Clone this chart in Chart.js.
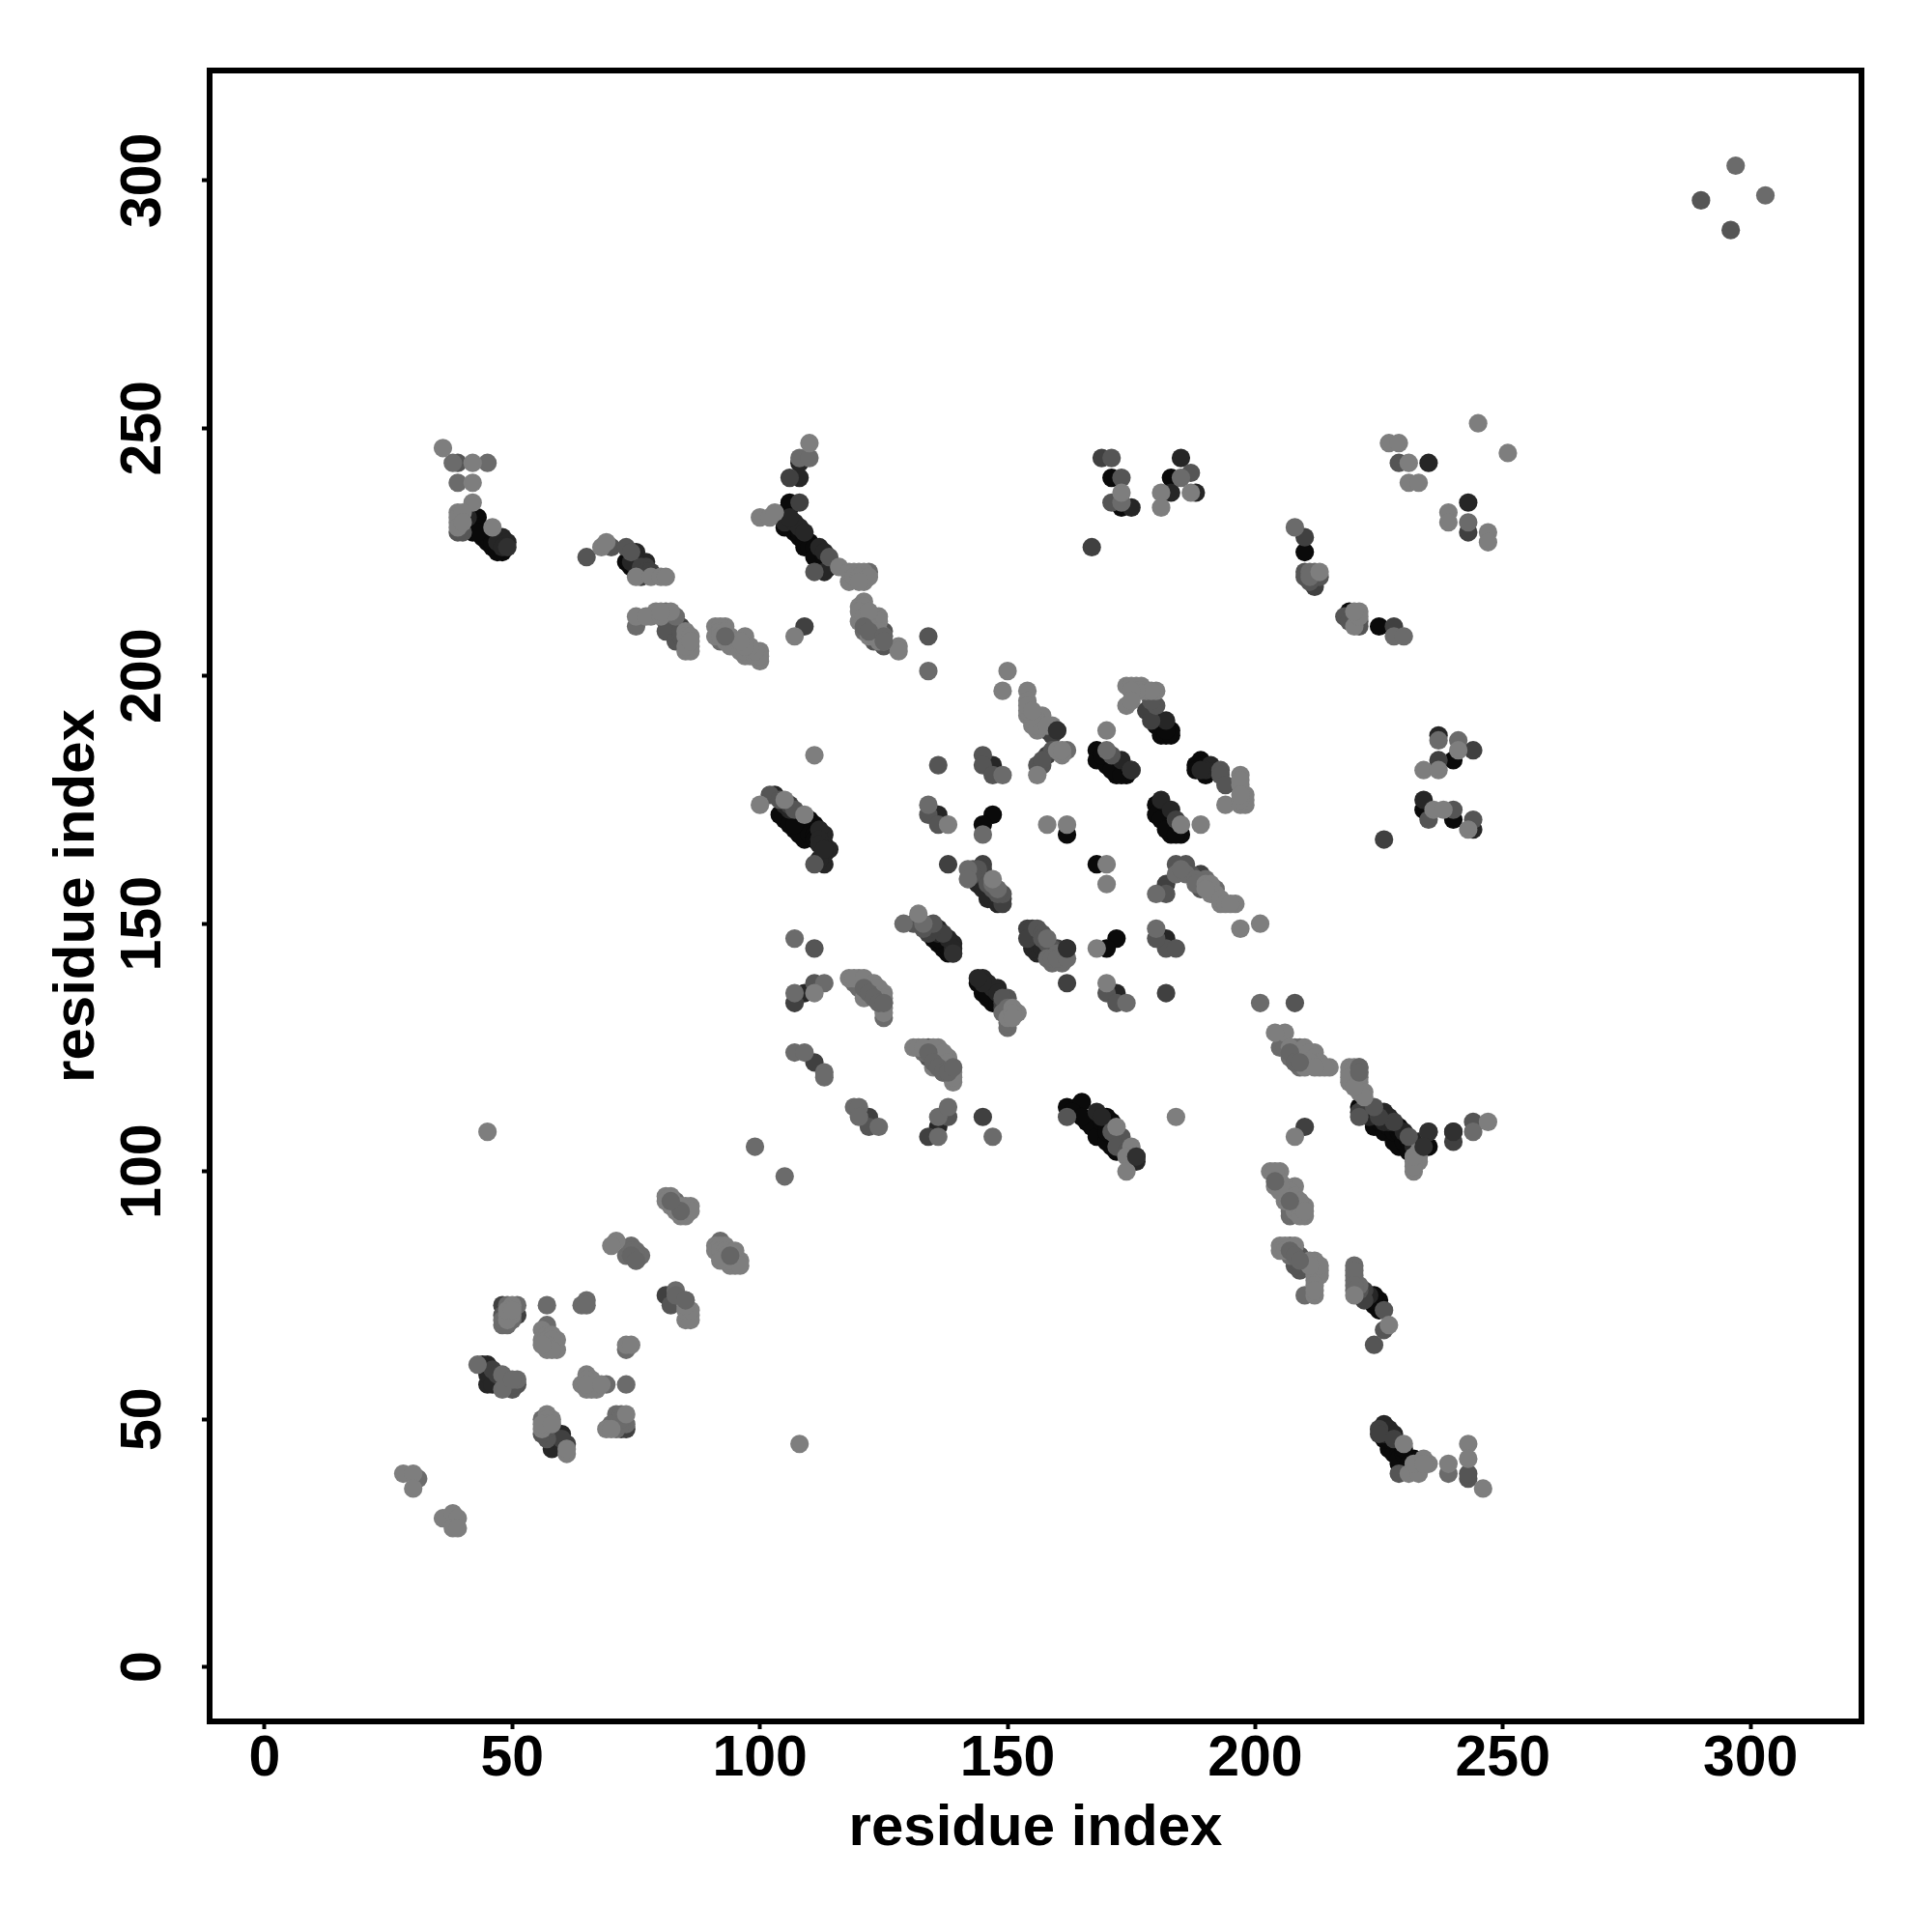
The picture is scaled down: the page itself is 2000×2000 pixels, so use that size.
<!DOCTYPE html>
<html>
<head>
<meta charset="utf-8">
<title>residue contact map</title>
<script src="https://cdn.jsdelivr.net/npm/chart.js@4"></script>
<style>
  body { margin: 0; background: #fff; }
  canvas { display: block; }
</style>
</head>
<body>
<canvas id="contactMap" width="2000" height="2000"></canvas>
<script>
// tick labels on both axes
const tickValues = [0, 50, 100, 150, 200, 250, 300];
const axisTitle = 'residue index';

// contacts as [residue, residue], grouped by how dark the point is
const contactsBlack = [
  [43,232],[42,231],[43,230],[42,229],[44,229],[44,228],[45,227],[46,226],[47,226],[48,225],[41,230],
  [74,224],[73,223],[74,222],[75,221],
  [105,233],[106,235],[105,230],[107,229],[108,228],[110,227],[112,224],[114,222],[106,234],[109,226],[111,225],[113,223],
  [105,171],[107,169],[109,167],[104,172],[106,170],[108,168],[111,170],
  [136,146],[138,144],[137,145],[144,138],[145,136],[147,134],[146,135],
  [147,172],[145,170],[162,168],[168,162],[172,147],[170,145],
  [168,185],[168,183],[170,182],[172,180],[174,180],[169,184],[171,181],[173,180],
  [180,174],[180,172],[183,168],[181,171],[182,169],[185,168],[184,168],
  [181,188],[180,190],[183,189],[182,188],[183,188],
  [189,183],[188,182],[188,181],[190,180],
  [171,240],[173,234],[183,240],[210,225],[219,213],[212,219],[225,210],
  [240,183],[234,173],[235,172],[240,171],
  [162,113],[164,113],[165,114],[166,110],[170,111],[169,108],[171,105],[163,112],[167,109],[168,107],[170,106],[172,104],[165,111],
  [221,113],[224,109],[229,105],[234,105],[226,108],[228,106],[231,104],
  [225,74],[224,73],
  [227,44],[229,41],[231,42],[226,46],[228,43],[230,41],[232,42],
  [59,45],[107,172],[108,171],[108,172],[109,170],[110,170],[110,171],[110,168],[111,168],[111,167],[113,166],[107,170],
  [146,137],[147,136],[148,135],[146,136],[148,134],[135,147],[137,147],[137,146],[138,146],[138,145],[136,147],
  [169,110],[170,109],[171,110],[172,108],[170,108],[225,110],[227,109],[228,109],[228,108],[229,108],[229,109],[230,106],[231,106],[234,106],[235,105],
  [225,72],[223,74],[224,75],[224,74],[227,46],[229,44],[229,43],[229,42],[230,43],[230,44],[231,41],[232,40],
  [45,228],[46,228],[46,227],[47,225],[43,229],[106,231],[106,230],[107,230],[108,229],[109,228],[109,227],[110,226],[111,226],[111,224],[113,224],
  [181,190],[182,190],[182,189],[181,191]
];
const contactsVeryDark = [
  [48,228],[47,227],[41,232],[75,225],[77,223],
  [108,243],[108,240],[105,231],[107,231],[108,230],[109,229],[112,226],[113,225],[113,221],[106,232],
  [103,176],[113,168],[114,165],[113,162],[139,146],[139,144],
  [146,155],[148,154],[144,158],[145,157],[147,156],[145,139],[148,137],
  [136,172],[147,182],[172,136],[182,147],[181,175],[183,173],[173,183],[191,182],[182,191],
  [185,244],[175,234],[183,237],[188,237],[235,243],[243,235],[237,188],[234,175],[244,169],
  [176,103],[226,112],[240,108],[226,49],[228,47],[44,61],[45,57],[60,47],[58,44],
  [136,109],[109,136],[156,144],[155,145],
  [45,61],[45,59],[47,57],[46,57],[59,46],[60,45],[146,138],[147,137],[148,136],[145,138],[144,139],
  [136,149],[136,148],[138,147],[139,145],[144,159],[145,159],[145,158],[146,157],[147,155],[146,156],[148,155],
  [155,147],[156,146],[157,145],[158,144],[161,144],[105,174],[106,173],[112,169],[112,167],[112,166],[113,164],[112,163],[113,165],
  [168,112],[169,111],[173,106],[174,105],[175,103],[176,102],[222,113],[223,112],[223,111],[224,112],[226,110],[227,111],[227,110],[230,108],[232,105],[232,106],[233,106],
  [223,75],[226,48],[227,48],[227,47],[226,47],[49,227],[48,226],[190,181],[189,181],[158,189],[75,222],[75,223],[74,223],[212,220],[219,212]
];
const contactsDark = [
  [77,222],[76,221],[84,210],[109,210],[106,240],[108,235],[106,174],[111,122],[122,111],
  [158,184],[160,189],[178,193],[179,191],[175,181],[184,171],[138,162],[145,162],[182,158],[189,160],
  [137,148],[134,148],[154,149],[154,147],[162,145],[182,136],[162,138],[145,111],[134,107],[107,134],
  [169,244],[167,226],[210,228],[228,210],[243,229],[244,185],[237,183],[226,167],[210,109],[240,106],
  [222,76],[222,74],[46,60],[48,73],[51,71],[81,75],[61,45],[73,48],[225,48],[228,110],[121,137],[149,133],
  [58,47],[47,59],[72,48],[149,134],[135,149],[144,160],[145,161],[149,155],[149,154],[155,149],[155,148],[160,145],
  [172,107],[175,104],[225,111],[221,112],[225,47],[228,46],[159,188],[76,222],[77,221],[78,221],[60,46],[76,220],[212,218],[220,212]
];
const contactsMid = [
  [65,224],[70,226],[73,226],[39,243],[39,229],[81,211],[81,209],[83,207],[114,224],[111,221],[134,208],
  [102,176],[107,173],[111,162],[136,182],[145,184],[145,182],[147,180],[156,182],[134,172],[136,170],
  [171,235],[171,244],[173,240],[187,241],[184,162],[186,162],[182,156],[149,156],[189,157],[131,150],[135,150],
  [156,149],[111,145],[182,145],[184,145],[180,147],[111,138],[134,125],[134,123],[125,134],[138,111],[150,135],
  [170,136],[172,134],[162,111],[173,107],[208,134],[218,212],[221,210],[229,243],[240,173],[235,171],[244,171],
  [208,122],[221,111],[224,113],[231,107],[235,108],[244,110],[209,83],[209,80],[226,72],[226,68],[224,65],
  [229,39],[243,38],[243,39],[290,296],[296,290],[50,56],[51,57],[82,73],[48,71],[57,46],[122,109],[125,209],[125,206],
  [123,207],[171,184],[193,181],[193,180],[194,178],[180,194],
  [56,47],[57,48],[49,58],[49,57],[50,57],[133,149],[143,161],[144,161],[143,160],[146,158],[148,156],[147,157],
  [157,148],[157,147],[158,146],[159,145],[161,143],[104,175],[171,108],[172,105],[174,104],[221,76],[40,229],
  [74,225],[84,208],[85,207],[84,209],[149,135],[179,195],[159,185],[157,182],[157,183],[187,160],[208,84],[208,83],[208,81],[208,82],
  [210,221],[210,220],[211,219],[213,220],[219,211],[220,211],[221,211]
];
const contactsGrey = [
  [38,243],[45,243],[39,239],[75,210],[81,213],[83,212],[92,207],[108,244],[110,244],[105,99],[99,105],[134,201],
  [107,147],[113,138],[107,136],[107,124],[109,124],[113,120],[113,119],[129,150],[158,147],[160,144],[159,142],[161,142],
  [180,149],[180,156],[142,161],[142,159],[184,160],[190,159],[192,157],[149,180],[145,168],[134,174],[162,185],[170,185],
  [173,235],[185,240],[208,230],[228,208],[230,208],[237,187],[241,187],[243,231],[201,134],[207,124],[209,125],[207,91],
  [207,85],[207,83],[210,75],[220,81],[220,78],[221,121],[221,119],[244,108],[119,113],[120,113],[120,111],[124,109],
  [136,111],[138,113],[136,107],[147,107],[139,121],[125,131],[150,129],[174,134],[239,39],[297,303],[303,297],
  [43,61],[48,59],[48,56],[51,58],[65,74],[64,73],[65,73],[57,73],[51,73],[49,73],[48,69],[49,69],[57,69],[73,64],[69,57],[73,57],
  [56,50],[71,51],[73,49],[71,48],[31,38],[74,85],[73,83],[76,83],[92,86],[94,84],[83,76],[85,74],[83,94],[121,209],[122,221],
  [122,138],[119,138],[120,137],[122,136],[133,124],[134,124],[135,123],[136,122],[137,121],[138,120],[137,120],[205,125],[206,125],[207,123],[208,125],[208,123],[209,122],[209,121],
  [220,120],[220,79],[220,80],[221,77],[220,77],[220,76],[50,58],[133,150],[149,132],[150,133],[150,130],[147,158],[148,157],[158,143],[159,143],[160,143],[162,143],
  [186,160],[188,159],[188,158],[185,161],[207,93],[208,93],[207,92],[48,70],[50,70],[74,84],[74,83],[75,84],[75,83],[75,82],[72,51],[72,49],[72,50],[70,49],
  [211,221],[212,221],[211,220]
];
const contactsLight = [
  [36,246],[42,243],[42,239],[42,235],[39,233],[39,231],[46,230],[68,226],[69,227],[75,220],[78,220],[80,220],[81,220],
  [75,212],[78,212],[79,213],[85,209],[85,208],[86,206],[85,205],[86,205],[86,208],[91,210],[93,210],[91,208],[94,208],
  [95,206],[97,208],[97,204],[98,204],[100,205],[100,203],[107,208],[111,184],[110,247],[100,232],[102,232],[103,233],
  [116,222],[118,219],[120,221],[121,219],[121,215],[121,213],[120,211],[124,212],[123,210],[128,206],[128,205],
  [150,201],[149,197],[154,197],[154,195],[154,192],[157,192],[156,189],[159,190],[160,185],[174,198],[176,198],[178,197],
  [180,197],[174,194],[170,189],[100,174],[105,175],[109,172],[138,170],[158,170],[162,170],[185,170],[189,170],[170,162],
  [170,158],[147,159],[156,180],[193,154],[196,154],[194,174],[197,174],[198,174],[198,176],[197,178],[197,180],[197,149],
  [201,150],[132,152],[168,145],[111,136],[118,139],[120,139],[123,137],[125,136],[121,135],[131,125],[136,125],[138,123],
  [135,121],[139,118],[152,132],[150,131],[170,138],[172,109],[175,105],[174,103],[174,100],[184,111],[245,251],[251,245],
  [227,247],[229,247],[231,243],[231,239],[233,239],[239,233],[239,231],[247,229],[247,227],[213,221],[221,213],[220,210],
  [234,181],[237,181],[241,185],[236,173],[238,173],[243,169],[206,128],[204,128],[210,124],[212,124],[210,121],[213,121],
  [215,121],[219,120],[219,118],[221,116],[233,104],[232,102],[232,100],[247,110],[208,107],[203,100],[205,100],[204,97],
  [208,97],[206,94],[210,93],[210,91],[205,85],[212,82],[213,80],[212,78],[212,75],[220,75],[227,69],[230,45],[233,41],
  [235,41],[231,39],[233,39],[239,41],[243,45],[243,42],[246,36],[108,45],[45,108],[81,95],[82,95],[81,94],[82,93],[83,92],
  [84,91],[85,91],[85,93],[86,93],[86,92],[91,85],[91,84],[92,83],[93,82],[94,81],[95,81],[96,82],[71,86],[70,85],[86,71],
  [85,70],[73,65],[74,65],[56,68],[59,66],[56,66],[57,64],[59,64],[58,65],[65,59],[64,57],[65,56],[67,56],[57,51],[56,48],
  [58,50],[61,43],[73,51],[69,48],[28,39],[30,39],[30,36],[36,30],[38,31],[39,30],[38,28],[39,28],
  [119,139],[121,139],[123,138],[124,137],[124,135],[125,135],[125,133],[125,132],[124,134],[132,125],[133,125],[135,125],[137,124],[138,122],[139,120],[139,119],[136,121],
  [207,125],[210,125],[211,124],[212,123],[213,122],[214,121],[211,122],[212,121],[219,121],[220,121],[220,119],[220,118],[221,120],[221,118],[221,117],[222,116],[222,115],[219,119],[220,117],
  [118,221],[119,221],[121,221],[119,220],[120,220],[122,220],[120,219],[120,214],[121,214],[120,213],[121,212],[122,212],[122,211],[123,212],[124,211],[122,210],[123,209],[124,209],[124,208],[125,208],[124,207],[125,207],[122,208],[123,208],[122,213],
  [204,99],[205,98],[204,100],[206,97],[206,96],[207,96],[207,95],[208,94],[208,95],[208,92],[209,92],[209,91],[209,93],[206,95],[205,96],[205,97],[209,94],[210,92],
  [92,210],[92,209],[93,209],[92,208],[93,208],[93,207],[94,207],[95,207],[94,206],[96,206],[96,205],[97,205],[98,205],[99,204],[100,204],[99,205],[98,206],[97,206],[96,207],
  [84,92],[84,93],[92,85],[93,85],[92,84],[93,84],[93,83],[94,83],[95,83],[95,84],[94,82],[95,82],[96,81],[92,82],
  [57,67],[58,67],[57,66],[58,66],[57,65],[58,64],[56,65],[66,58],[66,57],[65,58],[66,56],[65,57],[86,70],[85,72],[86,72],[85,73],
  [77,212],[80,212],[82,213],[80,213],[85,206],[86,207],[206,85],[205,84],[206,84],[208,85],[212,81],[212,80],[211,82],[212,79],[213,79],[212,77],[212,76],[213,81],[211,81],
  [233,103],[233,102],[232,101],[232,103],[232,41],[234,42],[234,41],[39,232],[40,233],[39,230],[40,231],[50,73],[50,71],[49,71],[49,70],[49,72],[50,72],
  [57,50],[57,49],[56,49],[58,49],[61,44],[70,48],[68,57],[151,133],[151,132],[151,131],[175,198],[177,198],[177,197],[179,197],[176,197],[175,197],[175,195],
  [155,191],[155,190],[156,191],[156,190],[157,190],[158,190],[155,192],[154,193],[154,194],[155,193],[161,184],[161,185],[190,158],[191,158],[191,156],[192,156],[193,155],[194,154],[195,154],[190,157],[197,179],[198,175],[197,175],[197,176],
  [173,237],[181,237],[187,237],[181,234],[221,212],[220,213]
];
// the points that sit on top of lighter neighbours
const contactsOnTopDark = [[49,226],[176,103],[160,189],[175,181],[139,144],[240,108],[162,145],[235,108],[234,105]];
const contactsOnTopMid = [
  [121,137],[122,136],[123,135],[124,134],[125,134],[134,124],[135,122],[136,121],[137,120],[138,120],[139,121],
  [207,124],[208,122],[209,122],[207,84],[208,83],[209,82],[221,121],[221,120],[204,98],[207,94],[93,208],[84,92],
  [82,94],[94,83],[74,83],[75,82],[83,75],[85,74],[121,210],[122,209],[125,208],[125,207]
];

const toPoints = (pairs) => pairs.map(([x, y]) => ({ x, y }));

// first dataset is drawn last, so the light points land over the dark ones
const layers = [
  { data: contactsOnTopDark, color: '#303030' },
  { data: contactsOnTopMid, color: '#656565' },
  { data: contactsLight, color: '#7e7e7e' },
  { data: contactsGrey, color: '#6b6b6b' },
  { data: contactsMid, color: '#555555' },
  { data: contactsDark, color: '#404040' },
  { data: contactsVeryDark, color: '#262626' },
  { data: contactsBlack, color: '#0a0a0a' }
];

const tickFont = { family: '"Liberation Sans", sans-serif', size: 59, weight: 'bold', lineHeight: 1 };
const titleFont = { family: '"Liberation Sans", sans-serif', size: 60, weight: 'bold', lineHeight: 1 };

const axisOptions = (min, max) => ({
  type: 'linear',
  min: min,
  max: max,
  afterBuildTicks: (scale) => { scale.ticks = tickValues.map((value) => ({ value })); },
  border: { display: false },
  grid: { drawOnChartArea: false, tickLength: 8, tickColor: '#000', tickWidth: 4 },
  title: { display: true, text: axisTitle, color: '#000', font: titleFont, padding: 0 }
});

// box round the plot area
const plotBox = {
  id: 'plotBox',
  afterDraw(chart) {
    const { ctx, chartArea } = chart;
    ctx.save();
    ctx.strokeStyle = '#000';
    ctx.lineWidth = 6;
    ctx.strokeRect(chartArea.left, chartArea.top, chartArea.width, chartArea.height);
    ctx.restore();
  }
};

const xAxis = axisOptions(-11.1, 322.4);
xAxis.ticks = { color: '#000', font: tickFont, padding: 2, autoSkip: false, maxRotation: 0 };
xAxis.afterFit = (scale) => { scale.height = 141; };

const yAxis = axisOptions(-11, 322.2);
yAxis.ticks = { color: '#000', font: tickFont, padding: 10, autoSkip: false, minRotation: 90, maxRotation: 90, crossAlign: 'center' };
yAxis.afterFit = (scale) => { scale.width = 167; };

new Chart(document.getElementById('contactMap').getContext('2d'), {
  type: 'scatter',
  data: {
    datasets: layers.map((layer) => ({
      data: toPoints(layer.data),
      backgroundColor: layer.color,
      borderWidth: 0,
      pointRadius: 9.6,
      pointHoverRadius: 9.6
    }))
  },
  options: {
    responsive: false,
    animation: false,
    devicePixelRatio: 1,
    layout: { padding: { left: 50, right: 73, top: 73, bottom: 77 } },
    plugins: { legend: { display: false }, tooltip: { enabled: false } },
    scales: { x: xAxis, y: yAxis }
  },
  plugins: [plotBox]
});
</script>
</body>
</html>
